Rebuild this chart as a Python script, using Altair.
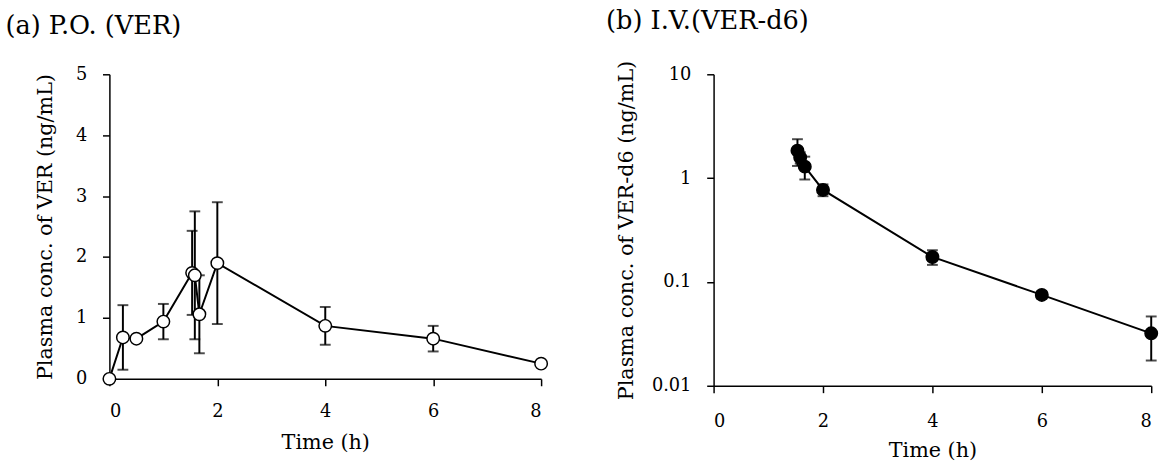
import altair as alt
import pandas as pd

# (a) P.O. (VER)
time_po = [0, 0.25, 0.5, 1, 1.533, 1.583, 1.667, 2, 4, 6, 8]
conc_po = [0, 0.68, 0.66, 0.94, 1.74, 1.70, 1.06, 1.90, 0.87, 0.66, 0.25]
sd_po = [0, 0.53, 0, 0.29, 0.69, 1.05, 0.64, 1.00, 0.31, 0.21, 0]

# (b) I.V. (VER-d6)
time_iv = [1.533, 1.583, 1.667, 2, 4, 6, 8]
conc_iv = [1.84, 1.58, 1.29, 0.77, 0.174, 0.075, 0.032]
sd_iv = [0.53, 0.20, 0.32, 0.10, 0.028, 0.006, 0.0145]

x_ticks = [0, 2, 4, 6, 8]
y_ticks_po = [0, 1, 2, 3, 4, 5]
y_ticks_iv = [0.01, 0.1, 1, 10]

FONT = "DejaVu Serif"

po = pd.DataFrame({"t": time_po, "c": conc_po, "sd": sd_po})
po["lo"] = po["c"] - po["sd"]
po["hi"] = po["c"] + po["sd"]
iv = pd.DataFrame({"t": time_iv, "c": conc_iv, "sd": sd_iv})
iv["lo"] = iv["c"] - iv["sd"]
iv["hi"] = iv["c"] + iv["sd"]


def panel(df, title, ytitle, yscale, yticks, yfmt, filled, w, h, dx,
          xlabpad, xtitlepad, ytitlepad):
    xenc = alt.X("t:Q", title="Time (h)",
                 scale=alt.Scale(domain=[0, 8], nice=False),
                 axis=alt.Axis(values=x_ticks, format="d",
                               labelPadding=xlabpad, titlePadding=xtitlepad))
    yax = alt.Axis(values=yticks, format=yfmt, titlePadding=ytitlepad)
    err = df[df["sd"] > 0]
    base_err = alt.Chart(err)
    rules = base_err.mark_rule(color="black", strokeWidth=2).encode(
        x="t:Q",
        y=alt.Y("lo:Q", scale=yscale),
        y2="hi:Q",
    )
    cap_hi = base_err.mark_tick(color="black", thickness=2, size=11,
                                orient="horizontal").encode(
        x="t:Q", y=alt.Y("hi:Q", scale=yscale))
    cap_lo = base_err.mark_tick(color="black", thickness=2, size=11,
                                orient="horizontal").encode(
        x="t:Q", y=alt.Y("lo:Q", scale=yscale))
    base = alt.Chart(df)
    line = base.mark_line(color="black", strokeWidth=2).encode(
        x=xenc,
        y=alt.Y("c:Q", title=ytitle, scale=yscale, axis=yax),
    )
    pts = base.mark_point(
        shape="circle", size=160, strokeWidth=1.5, opacity=1,
        filled=True, fill="black" if filled else "white", stroke="black",
    ).encode(x="t:Q", y=alt.Y("c:Q", scale=yscale))
    return alt.layer(line, rules, cap_hi, cap_lo, pts).properties(
        width=w, height=h,
        title=alt.TitleParams(title, anchor="start", frame="bounds",
                              font=FONT, fontSize=26, fontWeight="normal",
                              color="black", offset=27, dx=dx),
    )


left = panel(po, "(a) P.O. (VER)", "Plasma conc. of VER (ng/mL)",
             alt.Scale(domain=[0, 5], nice=False), y_ticks_po, "d",
             False, 438, 309, -30, 17, 12, 20)
right = panel(iv, "(b) I.V.(VER-d6)", "Plasma conc. of VER-d6 (ng/mL)",
              alt.Scale(type="log", domain=[0.01, 10], nice=False),
              y_ticks_iv, "~g", True, 444, 316, -10, 20, 10, 15)

chart = alt.hconcat(left, right, spacing=55).properties(
    padding={"left": 5, "top": 4, "right": 5, "bottom": 0},
    background="white",
).configure_view(stroke=None).configure_axis(
    grid=False, domainColor="black", domainWidth=1.5, tickColor="black",
    tickWidth=1.5, tickSize=7, labelFont=FONT, labelFontSize=18,
    labelColor="black", titleFont=FONT, titleFontSize=21,
    titleFontWeight="normal", titleColor="black", labelPadding=16,
)

chart.save("out.html", embed_options={"renderer": "svg", "actions": False})
